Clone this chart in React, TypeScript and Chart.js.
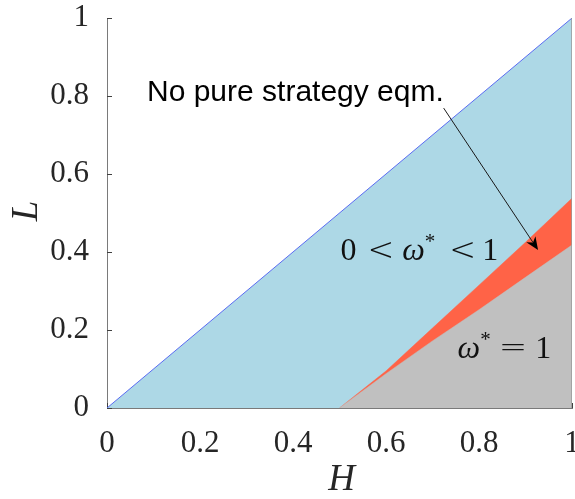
import React, { useEffect, useRef } from 'react';
import { Chart, registerables } from 'chart.js';

Chart.register(...registerables);

// ---- data ----
const diagonalH = [0, 1];
const diagonalL = [0, 1];
const boundaryH = [0.5, 0.6, 0.7, 0.8, 0.9, 1.0];
const noEqmUpperL = [0, 0.095, 0.205, 0.315, 0.425, 0.538];
const pureLowerL = [0, 0.088, 0.172, 0.252, 0.335, 0.418];
const edgeH = [1, 1];
const edgeL = [0, 1];
const tickValues = [0, 0.2, 0.4, 0.6, 0.8, 1];
const tickLabels = ['0', '0.2', '0.4', '0.6', '0.8', '1'];
const xTitle = 'H';
const yTitle = 'L';
const noEqmText = 'No pure strategy eqm.';
const noEqmTextPos = { x: 0.086, y: 0.787 };
const arrowFrom = { x: 0.724, y: 0.769 };
const arrowTo = { x: 0.927, y: 0.405 };
const mixedLabelPos = { x: 0.502, y: 0.379 };
const pureLabelPos = { x: 0.754, y: 0.128 };

const pts = (xs: number[], ys: number[]) => xs.map((x, i) => ({ x, y: ys[i] }));

const SERIF = '"Liberation Serif", "Times New Roman", serif';
const REL = '"DejaVu Sans", sans-serif';

type Part = { t: string; font: string; dy?: number; gap?: number };

function drawParts(ctx: CanvasRenderingContext2D, x: number, y: number, parts: Part[]) {
  let cx = x;
  for (const p of parts) {
    cx += p.gap || 0;
    ctx.font = p.font;
    ctx.fillText(p.t, cx, y + (p.dy || 0));
    cx += ctx.measureText(p.t).width;
  }
}

const overlayPlugin = {
  id: 'overlay',
  beforeDatasetsDraw(chart: any) {
    const { ctx, scales } = chart;
    const xs = scales.x;
    const ys = scales.y;
    ctx.save();
    ctx.strokeStyle = '#404040';
    ctx.lineWidth = 1;
    for (const v of tickValues) {
      const py = Math.round(ys.getPixelForValue(v)) + 0.5;
      ctx.beginPath();
      ctx.moveTo(xs.left, py);
      ctx.lineTo(xs.left + 5, py);
      ctx.stroke();
      const px = Math.round(xs.getPixelForValue(v)) + 0.5;
      ctx.beginPath();
      ctx.moveTo(px, ys.bottom);
      ctx.lineTo(px, ys.bottom - 5);
      ctx.stroke();
    }
    ctx.restore();
  },
  afterDraw(chart: any) {
    const { ctx, scales, chartArea } = chart;
    const xs = scales.x;
    const ys = scales.y;
    const X = (v: number) => xs.getPixelForValue(v);
    const Y = (v: number) => ys.getPixelForValue(v);
    ctx.save();
    ctx.fillStyle = '#000';
    ctx.textBaseline = 'alphabetic';
    ctx.textAlign = 'left';

    // annotation text
    ctx.font = '30px "Liberation Sans", Arial, sans-serif';
    ctx.fillText(noEqmText, X(noEqmTextPos.x), Y(noEqmTextPos.y));

    // arrow
    const x0 = X(arrowFrom.x), y0 = Y(arrowFrom.y);
    const x1 = X(arrowTo.x), y1 = Y(arrowTo.y);
    const ang = Math.atan2(y1 - y0, x1 - x0);
    const hl = 13, hw = 5.5;
    const bx = x1 - hl * Math.cos(ang), by = y1 - hl * Math.sin(ang);
    const nx = x1 - hl * 0.7 * Math.cos(ang), ny = y1 - hl * 0.7 * Math.sin(ang);
    ctx.strokeStyle = '#1a1a1a';
    ctx.lineWidth = 1;
    ctx.beginPath();
    ctx.moveTo(x0, y0);
    ctx.lineTo(nx, ny);
    ctx.stroke();
    ctx.beginPath();
    ctx.moveTo(x1, y1);
    ctx.lineTo(bx + hw * Math.sin(ang), by - hw * Math.cos(ang));
    ctx.lineTo(nx, ny);
    ctx.lineTo(bx - hw * Math.sin(ang), by + hw * Math.cos(ang));
    ctx.closePath();
    ctx.fillStyle = '#000';
    ctx.fill();

    // math labels
    ctx.fillStyle = '#111';
    const up = `32px ${SERIF}`;
    const it = `italic 32px ${SERIF}`;
    const sm = `21px ${SERIF}`;
    const rel = `200 32px ${REL}`;
    const eq = `200 34px ${REL}`;
    drawParts(ctx, X(mixedLabelPos.x), Y(mixedLabelPos.y), [
      { t: '0', font: up },
      { t: '<', font: rel, gap: 11 },
      { t: 'ω', font: it, gap: 8 },
      { t: '*', font: sm, dy: -12, gap: 0 },
      { t: '<', font: rel, gap: 14 },
      { t: '1', font: up, gap: 6 },
    ]);
    drawParts(ctx, X(pureLabelPos.x), Y(pureLabelPos.y), [
      { t: 'ω', font: it },
      { t: '*', font: sm, dy: -12, gap: 0 },
      { t: '=', font: eq, gap: 8 },
      { t: '1', font: up, gap: 8 },
    ]);

    // axis titles
    ctx.fillStyle = '#262626';
    ctx.font = `italic 37px ${SERIF}`;
    ctx.textAlign = 'center';
    ctx.fillText(xTitle, (chartArea.left + chartArea.right) / 2 + 2, chartArea.bottom + 82);
    ctx.save();
    ctx.translate(37, (chartArea.top + chartArea.bottom) / 2 - 2);
    ctx.rotate(-Math.PI / 2);
    ctx.fillText(yTitle, 0, 0);
    ctx.restore();

    ctx.restore();
  },
};

export default function App() {
  const ref = useRef<HTMLCanvasElement | null>(null);

  useEffect(() => {
    const canvas = ref.current;
    if (!canvas) return;
    const labelFor = (v: number | string) => {
      const n = Number(v);
      const i = tickValues.findIndex((t) => Math.abs(t - n) < 1e-6);
      return i >= 0 ? tickLabels[i] : '';
    };
    const chart = new Chart(canvas, {
      type: 'scatter',
      data: {
        datasets: [
          {
            label: 'edge',
            data: pts(edgeH, edgeL),
            showLine: true,
            borderColor: '#9a9a9a',
            borderWidth: 1.5,
            pointRadius: 0,
            fill: false,
            order: 0,
          },
          {
            label: 'omega = 1',
            data: pts(boundaryH, pureLowerL),
            showLine: true,
            borderColor: '#c0c0c0',
            backgroundColor: '#c0c0c0',
            borderWidth: 0.5,
            pointRadius: 0,
            fill: 'origin',
            order: 1,
          },
          {
            label: 'no pure eqm',
            data: pts(boundaryH, noEqmUpperL),
            showLine: true,
            borderColor: '#ff6347',
            backgroundColor: '#ff6347',
            borderWidth: 0.5,
            pointRadius: 0,
            fill: 'origin',
            order: 2,
          },
          {
            label: 'mixed',
            data: pts(diagonalH, diagonalL),
            showLine: true,
            borderColor: '#5b6cf2',
            backgroundColor: '#add8e6',
            borderWidth: 1,
            pointRadius: 0,
            fill: 'origin',
            order: 3,
          },
        ],
      },
      options: {
        animation: false,
        responsive: false,
        maintainAspectRatio: false,
        events: [],
        layout: { padding: { left: 0, top: 18, right: 3, bottom: 0 }, autoPadding: false },
        plugins: { legend: { display: false }, tooltip: { enabled: false }, title: { display: false } },
        scales: {
          x: {
            type: 'linear',
            min: 0,
            max: 1,
            z: 1,
            afterFit: (s: any) => {
              s.height = 91;
              s.paddingLeft = 0;
              s.paddingRight = 0;
            },
            grid: { display: false },
            border: { display: true, color: '#7a7a7a', width: 1 },
            ticks: {
              stepSize: 0.2,
              padding: 9,
              maxRotation: 0,
              color: '#262626',
              font: { family: 'Liberation Serif', size: 31 },
              callback: (v: any) => labelFor(v),
            },
          },
          y: {
            type: 'linear',
            min: 0,
            max: 1,
            z: 1,
            afterFit: (s: any) => {
              s.width = 107;
              s.paddingTop = 0;
              s.paddingBottom = 0;
            },
            grid: { display: false },
            border: { display: true, color: '#7a7a7a', width: 1 },
            ticks: {
              stepSize: 0.2,
              padding: 10,
              color: '#262626',
              font: { family: 'Liberation Serif', size: 31 },
              callback: (v: any) => labelFor(v),
            },
          },
        },
      },
      plugins: [overlayPlugin],
    } as any);
    return () => chart.destroy();
  }, []);

  return (
    <div style={{ position: 'absolute', left: 0, top: 0, width: 575, height: 499, background: '#fff' }}>
      <canvas ref={ref} width={575} height={499} style={{ width: 575, height: 499, display: 'block' }} />
    </div>
  );
}
